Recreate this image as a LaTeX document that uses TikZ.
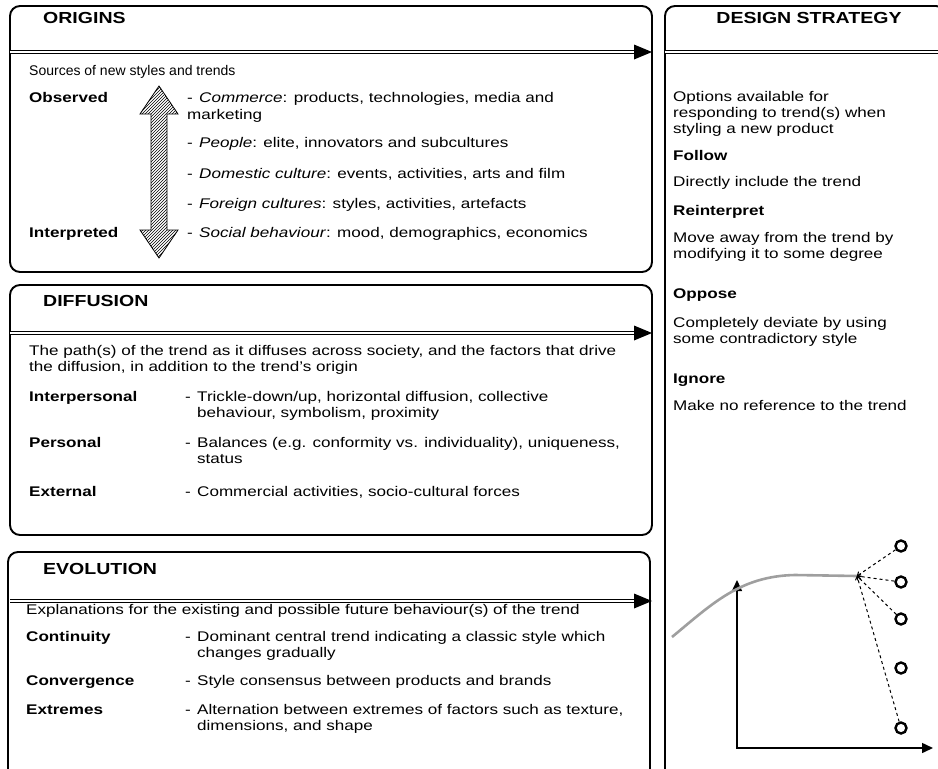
\documentclass[tikz,border=0pt]{standalone}
\usepackage{fontspec}
\setmainfont{Liberation Sans}[FakeStretch=1.22]
\newfontfamily\plainsans{Liberation Sans}
\usetikzlibrary{patterns,arrows.meta}
\newcommand{\dsh}{\makebox[12pt][l]{-}}
\begin{document}
\begin{tikzpicture}[x=1pt,y=-1pt,
  box/.style={draw, line width=1.9pt, rounded corners=10pt},
  ttl/.style={anchor=base west, font=\fontsize{16}{18}\selectfont\bfseries, inner sep=0pt},
  txt/.style={anchor=base west, font=\fontsize{14}{16}\selectfont, inner sep=0pt},
  lbl/.style={anchor=base west, font=\fontsize{14}{16}\selectfont\bfseries, inner sep=0pt},
  dl/.style={double, double distance=2pt, line width=1.2pt},
  head/.style={fill=black},
  ring/.style={circle, draw, line width=2.4pt, minimum size=11pt, inner sep=0pt},
  dsl/.style={dashed, line width=1pt, -{To[length=4pt,width=6pt]}},
]
\useasboundingbox (0,0) rectangle (938,769);

% ---------- boxes ----------
\draw[box] (10,6) rectangle (652,272);
\draw[box] (10,285) rectangle (652,535);
\draw[box] (8,552) rectangle (650,782);
\draw[box] (665,6) rectangle (946,782);

% ---------- double arrows ----------
\coordinate (o1) at (10,52);  \coordinate (o2) at (636,52);  \coordinate (o3) at (652,52);
\draw[dl] (o1) -- (o2);
\fill[head] (634,44.5) -- (o3) -- (634,59.5) -- cycle;
\coordinate (d1) at (10,333); \coordinate (d2) at (636,333); \coordinate (d3) at (652,333);
\draw[dl] (d1) -- (d2);
\fill[head] (634,325.5) -- (d3) -- (634,340.5) -- cycle;
\coordinate (e1) at (10,601); \coordinate (e2) at (636,601); \coordinate (e3) at (652,601);
\draw[dl] (e1) -- (e2);
\fill[head] (634,593.5) -- (e3) -- (634,608.5) -- cycle;
\coordinate (s1) at (665,52); \coordinate (s2) at (938,52);
\draw[dl] (s1) -- (s2);

% ---------- ORIGINS ----------
\node[ttl] (ot) at (43,23) {ORIGINS};
\node[txt, font=\fontsize{14}{16}\plainsans] (o0) at (29,75) {Sources of new styles and trends};
\node[lbl] (ol1) at (29,102) {Observed};
\node[lbl] (ol2) at (29,237) {Interpreted};
\node[txt] (oa) at (187,102) {\dsh\textit{Commerce}: products, technologies, media and};
\node[txt] (oa2) at (187,119) {marketing};
\node[txt] (ob) at (187,147) {\dsh\textit{People}: elite, innovators and subcultures};
\node[txt] (oc) at (187,178) {\dsh\textit{Domestic culture}: events, activities, arts and film};
\node[txt] (od) at (187,208) {\dsh\textit{Foreign cultures}: styles, activities, artefacts};
\node[txt] (oe) at (187,237) {\dsh\textit{Social behaviour}: mood, demographics, economics};
% hatched double arrow
\draw[line width=0.8pt, pattern=north east lines]
  (159,86) -- (178,114) -- (167,114) -- (167,230) -- (178,230) -- (159,258)
  -- (140,230) -- (151,230) -- (151,114) -- (140,114) -- cycle;

% ---------- DIFFUSION ----------
\node[ttl] (dt) at (43,306) {DIFFUSION};
\node[txt] (d0) at (29,355) {The path(s) of the trend as it diffuses across society, and the factors that drive};
\node[txt] (d0b) at (29,371) {the diffusion, in addition to the trend’s origin};
\node[lbl] (dl1) at (29,401) {Interpersonal};
\node[txt] (da) at (185,401) {\dsh Trickle-down/up, horizontal diffusion, collective};
\node[txt] (da2) at (197,417) {behaviour, symbolism, proximity};
\node[lbl] (dl2) at (29,447) {Personal};
\node[txt] (db) at (185,447) {\dsh Balances (e.g. conformity vs. individuality), uniqueness,};
\node[txt] (db2) at (197,463) {status};
\node[lbl] (dl3) at (29,496) {External};
\node[txt] (dc) at (185,496) {\dsh Commercial activities, socio-cultural forces};

% ---------- EVOLUTION ----------
\node[ttl] (et) at (43,574) {EVOLUTION};
\node[txt] (e0) at (26,614) {Explanations for the existing and possible future behaviour(s) of the trend};
\node[lbl] (el1) at (26,641) {Continuity};
\node[txt] (ea) at (185,641) {\dsh Dominant central trend indicating a classic style which};
\node[txt] (ea2) at (197,657) {changes gradually};
\node[lbl] (el2) at (26,685) {Convergence};
\node[txt] (eb) at (185,685) {\dsh Style consensus between products and brands};
\node[lbl] (el3) at (26,714) {Extremes};
\node[txt] (ec) at (185,714) {\dsh Alternation between extremes of factors such as texture,};
\node[txt] (ec2) at (197,730) {dimensions, and shape};

% ---------- DESIGN STRATEGY ----------
\node[ttl, anchor=base] (st) at (809,23) {DESIGN STRATEGY};
\node[txt] (s0) at (673,101) {Options available for};
\node[txt] (s0b) at (673,117) {responding to trend(s) when};
\node[txt] (s0c) at (673,133) {styling a new product};
\node[lbl] (sl1) at (673,160) {Follow};
\node[txt] (sa) at (673,186) {Directly include the trend};
\node[lbl] (sl2) at (673,215) {Reinterpret};
\node[txt] (sb) at (673,242) {Move away from the trend by};
\node[txt] (sb2) at (673,258) {modifying it to some degree};
\node[lbl] (sl3) at (673,298) {Oppose};
\node[txt] (sc) at (673,327) {Completely deviate by using};
\node[txt] (sc2) at (673,343) {some contradictory style};
\node[lbl] (sl4) at (673,383) {Ignore};
\node[txt] (sd) at (673,410) {Make no reference to the trend};

% ---------- chart ----------
\coordinate (ax0) at (737,748);
\coordinate (axy) at (737,580);
\coordinate (axx) at (933,748);
\draw[line width=1.5pt, {Triangle[length=11pt,width=10pt]}-{Triangle[length=11pt,width=10pt]}] (axy) -- (ax0) -- (axx);
\coordinate (cs) at (672,637);
\coordinate (p) at (857,576);
\draw[gray!75, line width=2.6pt] (cs) .. controls (712,604) and (740,576) .. (795,575) -- (p);
\node[ring] (c1) at (901,546) {};
\node[ring] (c2) at (901,582) {};
\node[ring] (c3) at (901,619) {};
\node[ring] (c4) at (901,668) {};
\node[ring] (c5) at (901,728) {};
\draw[dsl] (c1) -- (p);
\draw[dsl] (c2) -- (p);
\draw[dsl] (c3) -- (p);
\draw[dsl] (c5) -- (p);
\end{tikzpicture}
\end{document}
